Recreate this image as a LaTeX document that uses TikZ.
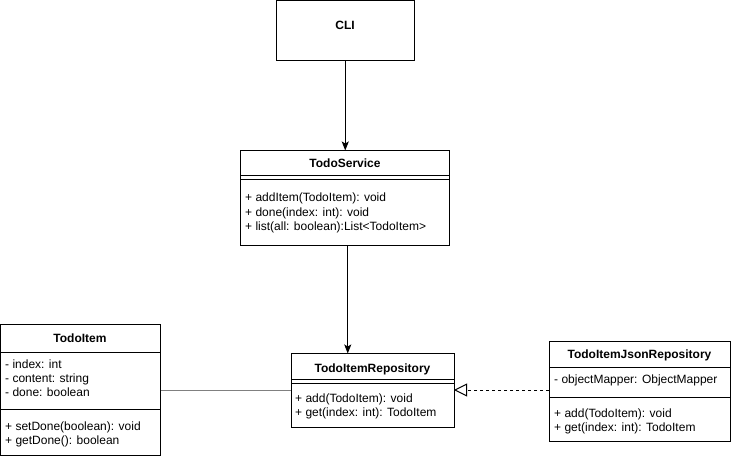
\documentclass[tikz,border=0pt]{standalone}
\usepackage{fontspec}
\setmainfont{Liberation Sans}
\usetikzlibrary{arrows.meta}
\begin{document}
\begin{tikzpicture}[x=1bp,y=-1bp,
  box/.style={draw=black, line width=1bp, fill=white, anchor=north west, inner sep=0pt, outer sep=0pt},
  txt/.style={anchor=base west, inner sep=0pt, font=\fontsize{12bp}{14.4bp}\selectfont},
  ttl/.style={anchor=base, inner sep=0pt, font=\fontsize{12bp}{14.4bp}\selectfont\bfseries},
  sep/.style={line width=1bp},
  conn/.style={line width=1bp},
  assoc/.style={line width=1.6bp, draw=black!50},
  arr/.style={conn, -{Stealth[length=9bp,width=7bp,inset=2bp]}},
  real/.style={conn, dashed, dash pattern=on 3bp off 3bp, -{Triangle[open,length=13bp,width=13bp]}}]
\useasboundingbox[fill=white] (0,0) rectangle (731,459);

% boxes
\node[box, minimum width=138.5bp, minimum height=60.5bp] (cli) at (276,0.5) {};
\node[box, minimum width=209bp, minimum height=95.5bp] (svc) at (240.5,150.5) {};
\node[box, minimum width=163bp, minimum height=73.5bp] (repo) at (291,353.5) {};
\node[box, minimum width=159.5bp, minimum height=130bp] (item) at (0.5,325) {};
\node[box, minimum width=181bp, minimum height=100.5bp] (json) at (549,341) {};

% separators
\draw[sep] (svc.west |- 0,176) -- (svc.east |- 0,176);
\draw[sep] (svc.west |- 0,180) -- (svc.east |- 0,180);
\draw[sep] (repo.west |- 0,379) -- (repo.east |- 0,379);
\draw[sep] (repo.west |- 0,383) -- (repo.east |- 0,383);
\draw[sep] (item.west |- 0,352) -- (item.east |- 0,352);
\draw[sep] (item.west |- 0,409) -- (item.east |- 0,409);
\draw[sep] (json.west |- 0,367) -- (json.east |- 0,367);
\draw[sep] (json.west |- 0,397) -- (json.east |- 0,397);

% texts
\node[ttl] (tcli) at (345,29.5) {CLI};

\node[ttl] (tsvc) at (345,168) {TodoService};
\node[txt] (s1) at (245,202) {+ addItem(TodoItem): void};
\node[txt] (s2) at (245,216.4) {+ done(index: int): void};
\node[txt] (s3) at (245,230.8) {+ list(all: boolean):List<TodoItem>};

\node[ttl] (trepo) at (372.5,372) {TodoItemRepository};
\node[txt] (r1) at (295,402.5) {+ add(TodoItem): void};
\node[txt] (r2) at (295,416.9) {+ get(index: int): TodoItem};

\node[ttl] (titem) at (80,343) {TodoItem};
\node[txt] (i1) at (5,368) {- index: int};
\node[txt] (i2) at (5,382.4) {- content: string};
\node[txt] (i3) at (5,396.8) {- done: boolean};
\node[txt] (i4) at (5,430) {+ setDone(boolean): void};
\node[txt] (i5) at (5,444.4) {+ getDone(): boolean};

\node[ttl] (tjson) at (639.5,359) {TodoItemJsonRepository};
\node[txt] (j1) at (554,383) {- objectMapper: ObjectMapper};
\node[txt] (j2) at (554,417) {+ add(TodoItem): void};
\node[txt] (j3) at (554,431.4) {+ get(index: int): TodoItem};

% connectors
\draw[arr] (cli.south) -- (cli.south |- svc.north);
\draw[arr] ([xshift=2.75bp]svc.south) -- ([xshift=2.75bp]svc.south |- repo.north);
\draw[assoc] ([xshift=0.5bp]item.east |- 0,390.3) -- ([xshift=-0.5bp]repo.west |- 0,390.3);
\draw[real] (json.west |- 0,390) -- (repo.east |- 0,390);
\end{tikzpicture}
\end{document}
